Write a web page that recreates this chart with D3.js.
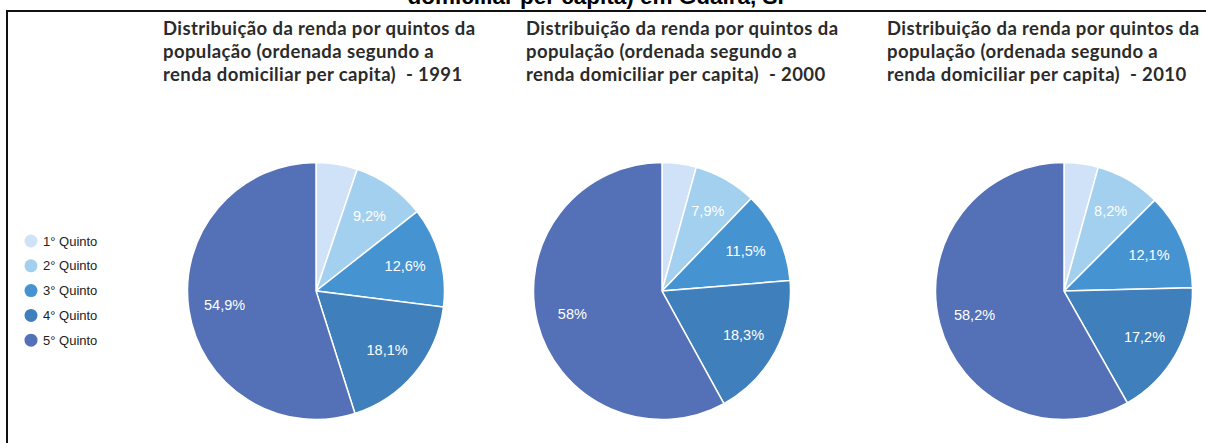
<!DOCTYPE html>
<html>
<head>
<meta charset="utf-8">
<script src="https://cdn.jsdelivr.net/npm/d3@7"></script>
<style>
  body { margin: 0; background: #fff; }
  svg { display: block; }
</style>
</head>
<body>
<svg id="chart"></svg>
<script>
// data
const quintos = ["1° Quinto", "2° Quinto", "3° Quinto", "4° Quinto", "5° Quinto"];
const anos = ["1991", "2000", "2010"];
const renda1991 = [5.2, 9.2, 12.6, 18.1, 54.9];
const renda2000 = [4.3, 7.9, 11.5, 18.3, 58];
const renda2010 = [4.3, 8.2, 12.1, 17.2, 58.2];
const rotulos1991 = ["", "9,2%", "12,6%", "18,1%", "54,9%"];
const rotulos2000 = ["", "7,9%", "11,5%", "18,3%", "58%"];
const rotulos2010 = ["", "8,2%", "12,1%", "17,2%", "58,2%"];
const titulo = "domiciliar per capita) em Guaíra, SP";
const subtitulo = ["Distribuição da renda por quintos da", "população (ordenada segundo a", "renda domiciliar per capita)  - "];

const W = 1206, H = 443;
const svg = d3.select("#chart").attr("width", W).attr("height", H);

const cores = d3.scaleOrdinal()
    .domain(quintos)
    .range(["#cfe2f8", "#a3d0ee", "#4693d2", "#3f7fbb", "#5470b6"]);

// main title, cut off at the top edge as in the source image
svg.append("text")
    .attr("x", 600).attr("y", 4)
    .attr("text-anchor", "middle")
    .attr("font-family", "Liberation Sans, Arial, sans-serif")
    .attr("font-weight", "bold")
    .attr("font-size", 22.5)
    .attr("fill", "#000")
    .text(titulo);

svg.append("path")
    .attr("d", "M7," + H + "V11H" + W)
    .attr("fill", "none")
    .attr("stroke", "#111")
    .attr("stroke-width", 2);

// legend
const leg = svg.append("g").attr("transform", "translate(31,241)");
const li = leg.selectAll("g").data(quintos).join("g")
    .attr("transform", (d, i) => "translate(0," + i * 24.8 + ")");
li.append("circle").attr("r", 6.5).attr("fill", d => cores(d));
li.append("text")
    .attr("x", 12).attr("dy", "0.35em")
    .attr("font-family", "Liberation Sans, Arial, sans-serif")
    .attr("font-size", 13)
    .attr("fill", "#222")
    .text(d => d);

const paineis = [
    { ano: anos[0], valores: renda1991, rotulos: rotulos1991, cx: 316, tx: 163 },
    { ano: anos[1], valores: renda2000, rotulos: rotulos2000, cx: 662, tx: 526 },
    { ano: anos[2], valores: renda2010, rotulos: rotulos2010, cx: 1064, tx: 887 }
];

const r = 128.5, cy = 291;
const pie = d3.pie().sort(null).value(d => d.v);
const arc = d3.arc().innerRadius(0).outerRadius(r);
const arcRot = d3.arc().innerRadius(r * 0.72).outerRadius(r * 0.72);

paineis.forEach(p => {
    const t = svg.append("text")
        .attr("font-family", "Lato, sans-serif")
        .attr("font-weight", "bold")
        .attr("font-size", 18.5)
        .attr("letter-spacing", 0.4)
        .attr("fill", "#2b2b2b");
    subtitulo.forEach((s, i) => {
        t.append("tspan")
            .attr("x", p.tx).attr("y", 35 + i * 23.2)
            .attr("xml:space", "preserve")
            .text(i === 2 ? s + p.ano : s);
    });

    const dados = quintos.map((q, i) => ({ q: q, v: p.valores[i], rot: p.rotulos[i] }));
    const g = svg.append("g").attr("transform", "translate(" + p.cx + "," + cy + ")");
    const fatias = pie(dados);

    g.selectAll("path").data(fatias).join("path")
        .attr("d", arc)
        .attr("fill", d => cores(d.data.q))
        .attr("stroke", "#fff")
        .attr("stroke-width", 1.5);

    g.selectAll("text").data(fatias.filter(d => d.data.rot)).join("text")
        .attr("transform", d => "translate(" + arcRot.centroid(d) + ")")
        .attr("text-anchor", "middle")
        .attr("dy", "0.35em")
        .attr("font-family", "Liberation Sans, Arial, sans-serif")
        .attr("font-size", 14.5)
        .attr("fill", "#fff")
        .text(d => d.data.rot);
});
</script>
</body>
</html>
